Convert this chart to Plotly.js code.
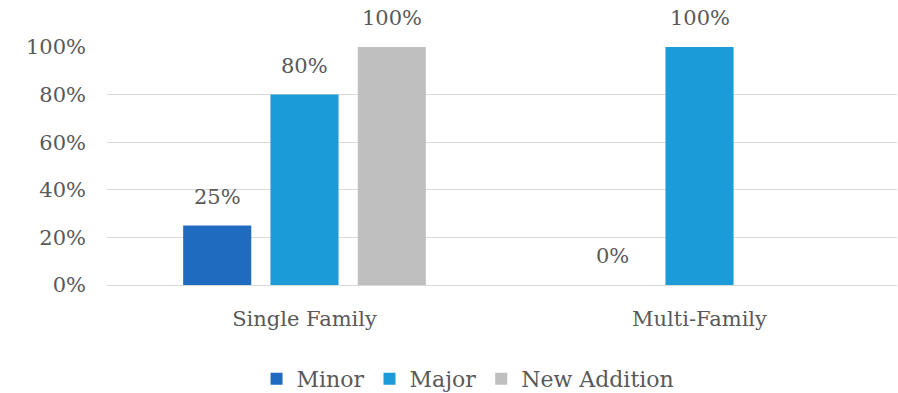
<!DOCTYPE html>
<html>
<head>
<meta charset="utf-8">
<script src="https://cdn.plot.ly/plotly-3.0.1.min.js"></script>
<style>html,body{margin:0;padding:0;background:#fff;}#chart{width:898px;height:393px;}</style>
</head>
<body>
<div id="chart"></div>
<script>
const categories = ["Single Family", "Multi-Family"];
const seriesNames = ["Minor", "Major", "New Addition"];
const minorValues = [0.25, 0];
const majorValues = [0.80, 1.00];
const newAdditionValues = [1.00, null];
const yTickValues = [0, 0.2, 0.4, 0.6, 0.8, 1.0];
const yTickLabels = ["0%", "20%", "40%", "60%", "80%", "100%"];

const colors = ["#1F6BC0", "#1B9CD8", "#BFBFBF"];
const allValues = [minorValues, majorValues, newAdditionValues];
const textColor = "#595959";
const fontFamily = "DejaVu Serif, Liberation Serif, serif";

const traces = allValues.map((vals, i) => ({
  type: "bar",
  name: seriesNames[i],
  x: categories,
  y: vals,
  marker: {color: colors[i]},
  hoverinfo: "none"
}));

const slotPx = 87.25;
const annotations = [];
allValues.forEach((vals, i) => {
  vals.forEach((v, j) => {
    if (v === null) return;
    annotations.push({
      x: categories[j], y: v, xref: "x", yref: "y",
      text: Math.round(v * 100) + "%",
      showarrow: false, xanchor: "center", yanchor: "bottom",
      xshift: (i - 1) * slotPx, yshift: 15,
      font: {family: fontFamily, size: 21, color: textColor}
    });
  });
});

const layout = {
  width: 898, height: 393,
  margin: {l: 107, r: 1, t: 47, b: 108, autoexpand: false},
  paper_bgcolor: "#ffffff", plot_bgcolor: "#ffffff",
  barmode: "group", bargap: 0.337, bargroupgap: 0.22,
  font: {family: fontFamily, color: textColor},
  xaxis: {
    type: "category", showgrid: false, showline: false, zeroline: false,
    ticks: "", ticklabelstandoff: 19,
    tickfont: {family: fontFamily, size: 21, color: textColor}
  },
  yaxis: {
    range: [0, 1.0], tickvals: yTickValues, ticktext: yTickLabels,
    showgrid: true, gridcolor: "#D9D9D9", gridwidth: 1,
    zeroline: true, zerolinecolor: "#D9D9D9", zerolinewidth: 1,
    showline: false, ticks: "", ticklabelstandoff: 20,
    tickfont: {family: fontFamily, size: 21, color: textColor}
  },
  showlegend: true,
  legend: {
    orientation: "h", x: 0.457, xanchor: "center",
    yref: "container", y: 0.036, yanchor: "middle",
    font: {family: fontFamily, size: 22, color: textColor},
    itemwidth: 30, tracegroupgap: 0
  },
  annotations: annotations
};

Plotly.newPlot("chart", traces, layout, {displayModeBar: false, staticPlot: true});
</script>
</body>
</html>
